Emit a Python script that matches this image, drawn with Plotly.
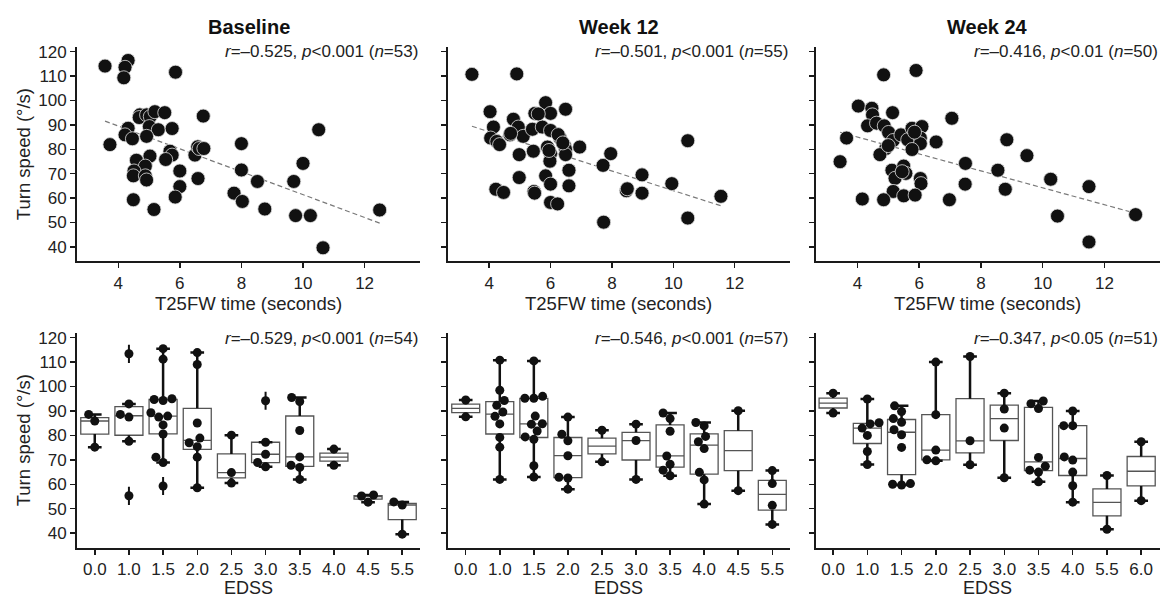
import math
import numpy as np
import plotly.graph_objects as go

# ---------------- data: top row (T25FW time vs turn speed) ----------------
t25fw_baseline = [3.57, 4.32, 4.22, 4.18, 5.86, 3.73, 6.76, 4.32, 4.22, 4.46, 4.70, 4.68, 4.92, 5.04, 5.19,
                  5.51, 5.01, 5.30, 4.92, 5.75, 5.68, 5.75, 5.54, 5.03, 4.59, 4.88, 4.51, 4.49, 4.88, 4.92,
                  4.49, 5.16, 6.00, 6.00, 5.85, 6.59, 6.49, 6.58, 6.63, 6.78, 8.00, 8.00, 7.76, 8.03, 8.52,
                  8.76, 9.70, 9.76, 10.24, 10.00, 10.51, 10.65, 12.49]
speed_baseline = [114.1, 116.4, 113.6, 109.3, 111.6, 81.9, 93.6, 88.6, 85.9, 84.3, 94.1, 93.0, 94.1, 93.4, 95.4,
                  95.0, 89.3, 88.0, 85.3, 88.5, 79.2, 77.6, 75.8, 77.2, 75.5, 73.1, 71.1, 69.1, 69.1, 67.4,
                  59.3, 55.3, 71.1, 64.7, 60.4, 68.0, 77.6, 81.0, 80.3, 80.3, 82.3, 71.5, 62.0, 58.6, 66.8,
                  55.5, 66.8, 52.8, 52.8, 74.2, 88.0, 39.6, 55.1]

t25fw_week12 = [3.44, 4.90, 4.03, 4.14, 4.05, 4.25, 4.34, 4.68, 4.79, 4.95, 5.11, 5.41, 5.49, 5.84, 6.00,
                6.49, 5.73, 6.00, 6.31, 6.45, 6.49, 6.49, 5.90, 6.00, 5.98, 5.44, 4.98, 6.95, 6.60, 6.60,
                5.84, 6.00, 4.98, 4.22, 4.47, 5.46, 5.48, 6.00, 6.23, 7.71, 7.96, 7.73, 8.47, 8.50, 8.98,
                8.98, 9.95, 10.47, 10.47, 11.55, 6.25, 6.40, 4.70, 5.60, 5.95]
speed_week12 = [110.7, 110.9, 95.4, 89.1, 84.6, 83.2, 81.9, 85.9, 92.3, 89.1, 85.3, 88.2, 94.7, 99.1, 94.7,
                96.4, 89.1, 87.7, 84.6, 81.6, 79.9, 77.8, 80.9, 78.2, 75.1, 79.2, 77.8, 80.9, 71.4, 65.0,
                69.1, 65.7, 68.4, 63.6, 62.3, 62.7, 62.0, 58.2, 57.6, 73.4, 78.2, 50.1, 63.0, 63.8, 69.5,
                62.0, 65.9, 83.5, 51.8, 60.7, 86.0, 82.6, 86.5, 94.5, 79.5]

t25fw_week24 = [3.44, 3.65, 4.03, 4.47, 4.49, 4.33, 4.62, 4.85, 5.90, 5.14, 4.87, 5.01, 5.16, 4.92, 4.73,
                5.41, 5.63, 5.77, 6.09, 6.04, 6.04, 5.77, 6.55, 7.06, 5.12, 5.50, 5.57, 5.22, 6.04, 6.06,
                5.16, 5.50, 5.87, 4.16, 4.85, 6.98, 7.50, 7.49, 8.55, 8.84, 8.79, 9.49, 10.26, 10.48, 11.50,
                11.50, 13.01, 5.45, 5.85, 5.00]
speed_week24 = [74.9, 84.6, 97.7, 96.8, 94.1, 89.6, 90.7, 110.5, 112.3, 95.0, 89.6, 86.9, 83.6, 80.3, 77.8,
                85.9, 83.9, 88.6, 89.3, 84.6, 82.3, 79.9, 83.0, 92.7, 71.4, 73.1, 70.1, 68.1, 68.0, 65.9,
                62.7, 60.9, 61.2, 59.6, 59.3, 59.3, 74.2, 65.7, 71.4, 83.9, 63.6, 77.4, 67.7, 52.6, 64.7,
                42.0, 53.2, 70.8, 87.0, 81.5]

# regression lines (slope, intercept)
fit_baseline = (-4.69, 108.3)
fit_week12 = (-4.02, 103.25)
fit_week24 = (-3.47, 98.9)

# ---------------- data: bottom row (EDSS vs turn speed) ----------------
edss_baseline = ["0.0", "1.0", "1.5", "2.0", "2.5", "3.0", "3.5", "4.0", "4.5", "5.5"]
edss_speed_baseline = [
    [88.6, 85.9, 75.2],
    [113.4, 92.9, 88.6, 87.5, 77.6, 55.3],
    [115.5, 111.2, 94.7, 94.3, 95.0, 89.3, 87.9, 87.5, 84.3, 80.6, 71.1, 68.9, 59.3],
    [113.9, 109.0, 85.1, 78.9, 77.0, 75.4, 71.1, 58.6],
    [80.1, 64.8, 60.5],
    [94.2, 77.2, 72.3, 68.9, 67.2],
    [95.5, 93.9, 82.0, 71.2, 67.8, 66.9, 62.0],
    [74.4, 67.8],
    [55.6, 55.2, 52.7],
    [52.8, 51.5, 39.6],
]

edss_week12 = ["0.0", "1.0", "1.5", "2.0", "2.5", "3.0", "3.5", "4.0", "4.5", "5.5"]
edss_speed_week12 = [
    [94.5, 87.6],
    [110.8, 98.5, 94.3, 92.3, 89.6, 87.8, 84.7, 79.2, 75.2, 62.0],
    [110.5, 96.0, 95.2, 95.2, 87.9, 84.8, 84.6, 81.8, 79.4, 78.4, 67.6, 63.0],
    [87.5, 80.5, 77.8, 71.7, 62.9, 62.6, 58.0],
    [82.1, 69.2],
    [84.6, 77.9, 62.0],
    [89.2, 86.9, 81.7, 71.6, 68.2, 65.8, 63.5],
    [85.3, 83.9, 79.6, 77.4, 74.6, 64.9, 61.8, 51.9],
    [90.1, 57.4],
    [65.6, 60.3, 51.4, 43.6],
]

edss_week24 = ["0.0", "1.0", "1.5", "2.0", "2.5", "3.0", "3.5", "4.0", "5.5", "6.0"]
edss_speed_week24 = [
    [97.3, 89.2],
    [94.9, 85.2, 84.7, 83.0, 80.0, 73.4, 68.1],
    [92.1, 89.8, 86.9, 85.4, 82.3, 80.3, 75.1, 60.3, 60.0, 59.7],
    [110.0, 88.5, 74.0, 70.0, 69.6],
    [112.3, 77.8, 68.0],
    [97.3, 90.8, 83.0, 62.7],
    [94.1, 93.0, 91.0, 71.0, 67.4, 65.8, 65.0, 61.0],
    [90.0, 84.0, 84.0, 71.2, 69.9, 65.0, 59.4, 52.7],
    [63.6, 41.6],
    [77.4, 53.3],
]

panel_titles = ["Baseline", "Week 12", "Week 24"]
stats_top = ["<i>r</i>=\u20130.525, <i>p</i>&lt;0.001 (<i>n</i>=53)",
             "<i>r</i>=\u20130.501, <i>p</i>&lt;0.001 (<i>n</i>=55)",
             "<i>r</i>=\u20130.416, <i>p</i>&lt;0.01 (<i>n</i>=50)"]
stats_bottom = ["<i>r</i>=\u20130.529, <i>p</i>&lt;0.001 (<i>n</i>=54)",
                "<i>r</i>=\u20130.546, <i>p</i>&lt;0.001 (<i>n</i>=57)",
                "<i>r</i>=\u20130.347, <i>p</i>&lt;0.05 (<i>n</i>=51)"]
y_ticks = [40, 50, 60, 70, 80, 90, 100, 110, 120]
x_ticks_top = [4, 6, 8, 10, 12]

# ---------------- layout geometry ----------------
W, H = 1173, 598
x_dom_px = [(77, 420), (448, 790), (816, 1160)]
x_dom = [(a / W, b / W) for a, b in x_dom_px]
y_dom_top = (1 - 259.2 / H, 1 - 43.1 / H)
y_dom_bot = (1 - 547.5 / H, 1 - 331.0 / H)
y_range = [34, 122]
x_range_top = [2.66, 13.8]
x_range_bot = [[-0.52, 9.52], [-0.52, 9.52], [-0.5, 9.55]]

FONT = "Liberation Sans, Arial, Helvetica, sans-serif"
INK = "#1a1a1a"
DOT = "#111111"

fig = go.Figure()


def swarm_offsets(vals, px_x, px_y, d=9.0):
    placed = []
    offs = [0.0] * len(vals)
    order = sorted(range(len(vals)), key=lambda i: vals[i])
    for i in order:
        y = vals[i] * px_y
        cands = [0.0]
        for xp, yp in placed:
            dy = abs(y - yp)
            if dy < d:
                dx = math.sqrt(d * d - dy * dy)
                cands += [xp - dx, xp + dx]
        cands.sort(key=lambda c: (abs(c), c))
        for c in cands:
            if all((c - xp) ** 2 + (y - yp) ** 2 >= d * d - 1e-6 for xp, yp in placed):
                offs[i] = c
                placed.append((c, y))
                break
    return [o / px_x for o in offs]


# ---------------- top row ----------------
top_sets = [(t25fw_baseline, speed_baseline, fit_baseline),
            (t25fw_week12, speed_week12, fit_week12),
            (t25fw_week24, speed_week24, fit_week24)]
for k, (xs, ys, (slope, icpt)) in enumerate(top_sets):
    ax = "" if k == 0 else str(k + 1)
    xmin, xmax = min(xs), max(xs)
    fig.add_trace(go.Scatter(x=[xmin, xmax], y=[icpt + slope * xmin, icpt + slope * xmax],
                             mode="lines", line=dict(color="#7a7a7a", width=1.2, dash="5px,3px"),
                             xaxis="x" + ax, yaxis="y" + ax, hoverinfo="skip"))
    fig.add_trace(go.Scatter(x=xs, y=ys, mode="markers",
                             marker=dict(size=14, color=DOT, line=dict(color="#e0e0e0", width=0.8)),
                             xaxis="x" + ax, yaxis="y" + ax))

# ---------------- bottom row ----------------
bot_sets = [(edss_baseline, edss_speed_baseline),
            (edss_week12, edss_speed_week12),
            (edss_week24, edss_speed_week24)]
BOX_W = 0.82
CAP = 0.2
for k, (cats, groups) in enumerate(bot_sets):
    ax = str(k + 4)
    xr = x_range_bot[k]
    px_x = (x_dom_px[k][1] - x_dom_px[k][0]) / (xr[1] - xr[0])
    px_y = (547.5 - 331.0) / (y_range[1] - y_range[0])
    pos = list(range(len(cats)))
    q1s, meds, q3s, los, his = [], [], [], [], []
    wx, wy = [], []
    ox, oy = [], []
    px, py = [], []
    for i, g in enumerate(groups):
        arr = np.array(g, dtype=float)
        q1, med, q3 = np.percentile(arr, [25, 50, 75])
        iqr = q3 - q1
        inside = arr[(arr >= q1 - 1.5 * iqr) & (arr <= q3 + 1.5 * iqr)]
        lo, hi = inside.min(), inside.max()
        q1s.append(q1); meds.append(med); q3s.append(q3); los.append(lo); his.append(hi)
        # whiskers + caps
        wx += [i, i, None, i, i, None, i - CAP, i + CAP, None, i - CAP, i + CAP, None]
        wy += [q1, lo, None, q3, hi, None, lo, lo, None, hi, hi, None]
        for v in arr:
            if v < lo or v > hi:
                ox.append(i); oy.append(v)
        offs = swarm_offsets(list(arr), px_x, px_y)
        px += [i + o for o in offs]
        py += list(arr)
    fig.add_trace(go.Box(x=pos, q1=q1s, median=meds, q3=q3s, lowerfence=los, upperfence=his,
                         width=BOX_W, whiskerwidth=0, boxpoints=False,
                         line=dict(color="#555555", width=1.3), fillcolor="white",
                         xaxis="x" + ax, yaxis="y" + ax, hoverinfo="skip"))
    fig.add_trace(go.Scatter(x=wx, y=wy, mode="lines", line=dict(color=DOT, width=2.5),
                             xaxis="x" + ax, yaxis="y" + ax, hoverinfo="skip"))
    fig.add_trace(go.Scatter(x=ox, y=oy, mode="markers",
                             marker=dict(symbol="line-ns", size=13, line=dict(color=DOT, width=2)),
                             xaxis="x" + ax, yaxis="y" + ax, hoverinfo="skip"))
    fig.add_trace(go.Scatter(x=px, y=py, mode="markers", marker=dict(size=9, color=DOT),
                             xaxis="x" + ax, yaxis="y" + ax))

# ---------------- axes ----------------
axis_common = dict(showline=True, linecolor=INK, linewidth=2, ticks="outside", ticklen=5,
                   tickwidth=1.5, tickcolor=INK, showgrid=False, zeroline=False,
                   tickfont=dict(family=FONT, size=17, color="#222222"))
layout = {}
for k in range(6):
    ax = "" if k == 0 else str(k + 1)
    col = k % 3
    top = k < 3
    xa = dict(axis_common, domain=list(x_dom[col]), anchor="y" + ax)
    ya = dict(axis_common, domain=list(y_dom_top if top else y_dom_bot), anchor="x" + ax,
              range=y_range, tickmode="array", tickvals=y_ticks, showticklabels=(col == 0))
    if top:
        xa.update(range=x_range_top, tickmode="array", tickvals=x_ticks_top)
    else:
        cats = bot_sets[col][0]
        xa.update(range=x_range_bot[col], tickmode="array", tickvals=list(range(len(cats))),
                  ticktext=cats)
    layout["xaxis" + ax] = xa
    layout["yaxis" + ax] = ya

ann = []
for col in range(3):
    cx = (x_dom[col][0] + x_dom[col][1]) / 2
    ann.append(dict(text="<b>" + panel_titles[col] + "</b>", x=cx, y=1 - 23 / H, xref="paper", yref="paper",
                    showarrow=False, xanchor="center", yanchor="middle",
                    font=dict(family=FONT, size=20, color="#111111")))
    ann.append(dict(text=stats_top[col], x=x_dom[col][1], y=1 - 48 / H, xref="paper", yref="paper",
                    showarrow=False, xanchor="right", yanchor="middle",
                    font=dict(family=FONT, size=17, color="#222222")))
    ann.append(dict(text=stats_bottom[col], x=x_dom[col][1], y=1 - 337 / H, xref="paper", yref="paper",
                    showarrow=False, xanchor="right", yanchor="middle",
                    font=dict(family=FONT, size=17, color="#222222")))
    ann.append(dict(text="T25FW time (seconds)", x=cx, y=1 - 302 / H, xref="paper", yref="paper",
                    showarrow=False, xanchor="center", yanchor="middle",
                    font=dict(family=FONT, size=18.5, color="#222222")))
    ann.append(dict(text="EDSS", x=cx, y=1 - 588 / H, xref="paper", yref="paper",
                    showarrow=False, xanchor="center", yanchor="middle",
                    font=dict(family=FONT, size=18, color="#222222")))
for yc in [(43.1 + 259.2) / 2, (331.0 + 547.5) / 2]:
    ann.append(dict(text="Turn speed (\u00b0/s)", x=23 / W, y=1 - yc / H, xref="paper", yref="paper",
                    showarrow=False, xanchor="center", yanchor="middle", textangle=-90,
                    font=dict(family=FONT, size=18.5, color="#222222")))

fig.update_layout(width=W, height=H, margin=dict(l=0, r=0, t=0, b=0),
                  paper_bgcolor="white", plot_bgcolor="white", showlegend=False,
                  hovermode=False, annotations=ann, **layout)

fig.write_html("out.html",
               config={"displayModeBar": False, "staticPlot": True},
               post_script="document.documentElement.style.margin='0';"
                           "document.body.style.margin='0';"
                           "document.body.style.overflow='hidden';")
